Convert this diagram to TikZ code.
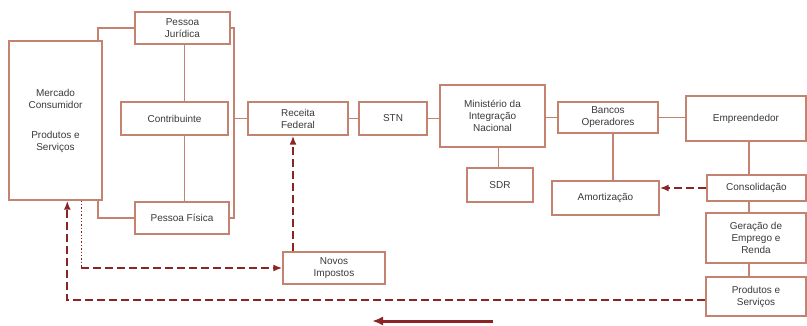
\documentclass[tikz,border=0pt]{standalone}
\usepackage{fontspec}
\setmainfont{Liberation Sans}
\usetikzlibrary{arrows.meta,calc}
\definecolor{boxc}{HTML}{C48370}
\definecolor{dashc}{HTML}{8B2525}
\definecolor{txtc}{HTML}{3A3A3A}
\begin{document}
\begin{tikzpicture}[x=1pt,y=-1pt,
  box/.style={draw=boxc,line width=1.4pt,fill=white,inner sep=1pt,align=center,
    font=\fontsize{10}{12}\selectfont,text=txtc},
  link/.style={draw=boxc,line width=1.7pt},
  dlink/.style={draw=dashc,line width=2pt,dash pattern=on 8pt off 4pt},
  dotlink/.style={draw=dashc,line width=1.4pt,dotted},
  tip/.style={-{Latex[length=9pt,width=7pt]}}]
\useasboundingbox[fill=white] (0,0) rectangle (807,326);
% nodes
\node[box,minimum width=93pt,minimum height=159pt] (merc) at (55.5,120.5)
  {Mercado\\Consumidor\\[18pt]Produtos e\\Serviços};
\node[box,minimum width=95pt,minimum height=32pt] (pj) at (182.5,28) {Pessoa\\Jurídica};
\node[box,minimum width=107pt,minimum height=33pt] (contrib) at (174.5,118.5) {Contribuinte};
\node[box,minimum width=94pt,minimum height=32pt] (pf) at (182,218) {Pessoa Física};
\node[box,minimum width=100pt,minimum height=33pt] (rf) at (298,118.5) {Receita\\Federal};
\node[box,minimum width=68pt,minimum height=33pt] (stn) at (393,118.5) {STN};
\node[box,minimum width=105pt,minimum height=62pt] (min) at (492.5,116) {Ministério da\\Integração\\Nacional};
\node[box,minimum width=66pt,minimum height=34pt] (sdr) at (500,185) {SDR};
\node[box,minimum width=100pt,minimum height=31pt] (bancos) at (608,117.5) {Bancos\\Operadores};
\node[box,minimum width=120pt,minimum height=45pt] (emp) at (746,118.5) {Empreendedor};
\node[box,minimum width=107pt,minimum height=34pt] (amort) at (605.5,198) {Amortização};
\node[box,minimum width=99pt,minimum height=26pt] (cons) at (756.5,188) {Consolidação};
\node[box,minimum width=100pt,minimum height=50pt] (ger) at (756,238) {Geração de\\Emprego e\\Renda};
\node[box,minimum width=100pt,minimum height=39pt] (prod) at (756,296.5) {Produtos e\\Serviços};
\node[box,minimum width=102pt,minimum height=32pt] (novos) at (334,268) {Novos\\Impostos};
% solid connectors
\draw[link] ([xshift=-5pt]merc.north east) |- (pj.west);
\draw[link] ([xshift=-5pt]merc.south east) |- (pf.west);
\draw[link] (pj.east) -- ++(3.5,0) coordinate (bus) -- (bus |- pf.east) -- (pf.east);
\draw[link] (bus |- rf.west) -- (rf.west);
\draw[link] ([xshift=2pt]pj.south) -- ([xshift=2pt]pj.south |- contrib.north);
\draw[link] ([xshift=2pt]pj.south |- contrib.south) -- ([xshift=2pt]pj.south |- pf.north);
\draw[link] (rf.east) -- (stn.west);
\draw[link] (stn.east) -- (stn.east -| min.west);
\draw[link] (bancos.west -| min.east) -- (bancos.west);
\draw[link] (bancos.east) -- (bancos.east -| emp.west);
\draw[link] ([xshift=6pt]min.south) -- ([xshift=6pt]min.south |- sdr.north);
\draw[link] ([xshift=5pt]bancos.south) -- ([xshift=5pt]bancos.south |- amort.north);
\draw[link] ([xshift=3pt]emp.south) -- ([xshift=3pt]emp.south |- cons.north);
\draw[link] ([xshift=3pt]emp.south |- cons.south) -- ([xshift=3pt]emp.south |- ger.north);
\draw[link] ([xshift=3pt]emp.south |- ger.south) -- ([xshift=3pt]emp.south |- prod.north);
% dashed connectors
\draw[dlink,tip] (cons.west) -- (cons.west -| amort.east);
\draw[dlink,tip] ([yshift=-3.5pt]prod.west) -| ([xshift=59pt]merc.south west);
\coordinate (dt) at ([xshift=73pt]merc.south west);
\draw[dotlink] (dt) -- (dt |- novos.west);
\draw[dlink,tip] (dt |- novos.west) -- (novos.west);
\draw[dlink,tip] ([xshift=-5pt]rf.south |- novos.north) -- ([xshift=-5pt]rf.south);
% bottom arrow
\coordinate (a1) at (493,321);
\coordinate (a2) at (372,321);
\draw[draw=dashc,line width=3pt,-{Latex[length=11pt,width=9pt]}] (a1) -- (a2);
\end{tikzpicture}
\end{document}
